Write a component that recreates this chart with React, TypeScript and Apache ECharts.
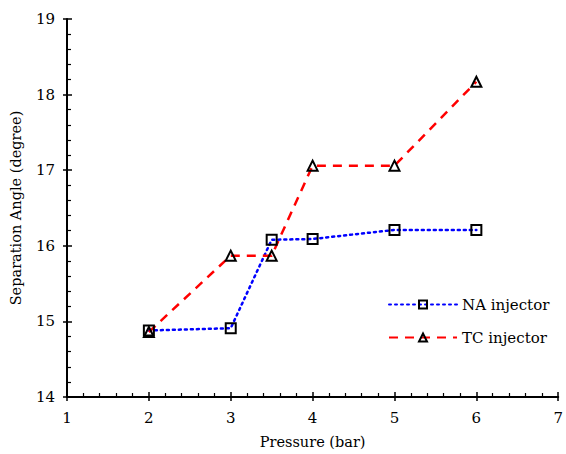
import React, { useEffect, useRef } from "react";
import * as echarts from "echarts";

const pressure = [2, 3, 3.5, 4, 5, 6];
const naInjector = [14.88, 14.91, 16.08, 16.09, 16.21, 16.21];
const tcInjector = [14.86, 15.87, 15.87, 17.06, 17.06, 18.17];
const seriesNames = ["NA injector", "TC injector"];

const FONT = "DejaVu Serif";

export default function App() {
  const ref = useRef<HTMLDivElement>(null);
  useEffect(() => {
    if (!ref.current) return;
    const chart = echarts.init(ref.current, undefined, { renderer: "svg" });
    const axisLine = { lineStyle: { color: "#000", width: 2 } };
    chart.setOption({
      animation: false,
      backgroundColor: "#fff",
      textStyle: { fontFamily: FONT },
      grid: { left: 65, right: 5, top: 19, bottom: 55 },
      legend: {
        orient: "vertical",
        left: 383,
        top: 292,
        itemWidth: 68,
        itemHeight: 10,
        itemGap: 18,
        textStyle: { fontFamily: FONT, fontSize: 15, color: "#000" },
        data: seriesNames,
      },
      xAxis: [
        {
          type: "value",
          min: 1,
          max: 7,
          interval: 1,
          name: "Pressure (bar)",
          nameLocation: "middle",
          nameGap: 37,
          nameTextStyle: { fontFamily: FONT, fontSize: 14.5, color: "#000" },
          axisLine,
          axisTick: { show: true, inside: true, length: 5, lineStyle: { color: "#000", width: 1.5 } },
          minorTick: { show: true, splitNumber: 5, length: 4, lineStyle: { color: "#000", width: 1.2 } },
          axisLabel: { fontFamily: FONT, fontSize: 15, color: "#000", margin: 13 },
          splitLine: { show: false },
        },
        {
          type: "value",
          min: 1,
          max: 7,
          interval: 1,
          position: "bottom",
          axisLine: { show: false },
          axisTick: { show: true, inside: false, length: 4, lineStyle: { color: "#000", width: 1.5 } },
          axisLabel: { show: false },
          splitLine: { show: false },
        },
      ],
      yAxis: [
        {
          type: "value",
          min: 14,
          max: 19,
          interval: 1,
          name: "Separation Angle (degree)",
          nameLocation: "middle",
          nameGap: 44,
          nameTextStyle: { fontFamily: FONT, fontSize: 14.5, color: "#000" },
          axisLine,
          axisTick: { show: true, inside: true, length: 5, lineStyle: { color: "#000", width: 1.5 } },
          minorTick: { show: true, splitNumber: 5, length: 4, lineStyle: { color: "#000", width: 1.2 } },
          axisLabel: { fontFamily: FONT, fontSize: 15, color: "#000", margin: 12 },
          splitLine: { show: false },
        },
        {
          type: "value",
          min: 14,
          max: 19,
          interval: 1,
          position: "left",
          axisLine: { show: false },
          axisTick: { show: true, inside: false, length: 4, lineStyle: { color: "#000", width: 1.5 } },
          axisLabel: { show: false },
          splitLine: { show: false },
        },
      ],
      series: [
        {
          name: seriesNames[0],
          type: "line",
          data: pressure.map((p, i) => [p, naInjector[i]]),
          symbol: "rect",
          symbolSize: 10,
          lineStyle: { color: "#0000ff", width: 2.5, type: [2, 4], cap: "round" },
          itemStyle: { color: "transparent", borderColor: "#000", borderWidth: 2 },
        },
        {
          name: seriesNames[1],
          type: "line",
          data: pressure.map((p, i) => [p, tcInjector[i]]),
          symbol: "triangle",
          symbolSize: 10,
          lineStyle: { color: "#ff0000", width: 2.5, type: [9, 7] },
          itemStyle: { color: "transparent", borderColor: "#000", borderWidth: 2 },
        },
      ],
    });
    return () => chart.dispose();
  }, []);
  return (
    <div
      ref={ref}
      style={{ position: "absolute", left: 0, top: 0, width: 566, height: 454 }}
    />
  );
}
